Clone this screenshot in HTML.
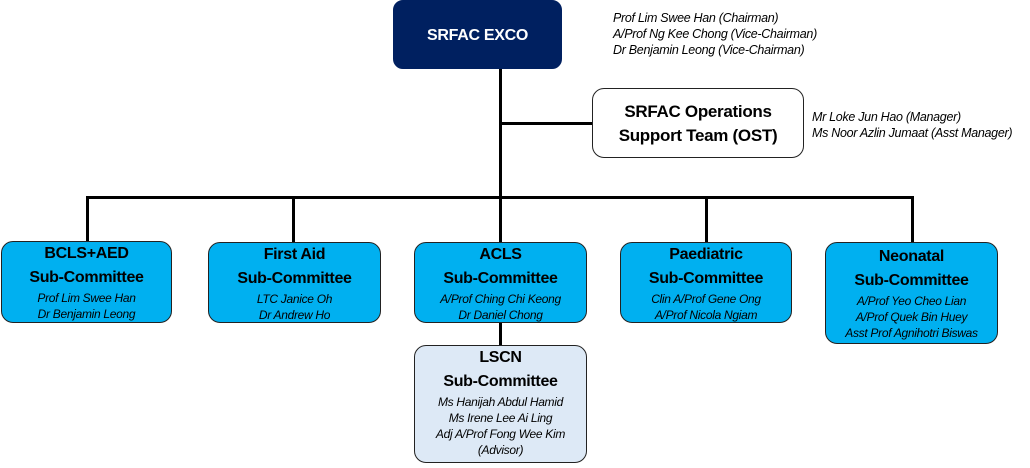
<!DOCTYPE html>
<html><head><style>
body{margin:0;width:1030px;height:468px;background:#fff;position:relative;font-family:"Liberation Sans",sans-serif;overflow:hidden}
.b{position:absolute;box-sizing:border-box;border:1.5px solid #222;border-radius:12px;text-align:center}
.t{font-weight:bold;font-size:16px;line-height:24px;letter-spacing:-0.3px}
.n{font-style:italic;font-size:12px;line-height:16px;letter-spacing:-0.3px;white-space:nowrap}
.l{position:absolute;background:#000}
.s{background:#00b0f0}
.r{position:absolute;font-style:italic;font-size:12.5px;line-height:16px;white-space:nowrap;letter-spacing:-0.3px}
</style></head><body>
<div class="l" style="left:499px;top:68px;width:3px;height:131px"></div>
<div class="l" style="left:500px;top:122px;width:93px;height:3px"></div>
<div class="l" style="left:86px;top:196px;width:828px;height:3px"></div>
<div class="l" style="left:86px;top:196px;width:3px;height:46px"></div>
<div class="l" style="left:292px;top:196px;width:3px;height:46px"></div>
<div class="l" style="left:499px;top:196px;width:3px;height:46px"></div>
<div class="l" style="left:705px;top:196px;width:3px;height:46px"></div>
<div class="l" style="left:911px;top:196px;width:3px;height:46px"></div>
<div class="l" style="left:499px;top:320px;width:3px;height:26px"></div>

<div class="b" style="left:393px;top:0;width:169px;height:69px;background:#002060;border-color:#002060;color:#fff;border-radius:10px"><div class="t" style="line-height:69px;font-size:16px">SRFAC EXCO</div></div>
<div class="r" style="left:613px;top:10px">Prof Lim Swee Han (Chairman)<br>A/Prof Ng Kee Chong (Vice-Chairman)<br>Dr Benjamin Leong (Vice-Chairman)</div>

<div class="b" style="left:592px;top:88px;width:212px;height:70px;background:#fff"><div class="t" style="padding-top:11px;font-size:17px">SRFAC Operations<br>Support Team (OST)</div></div>
<div class="r" style="left:812px;top:109px">Mr Loke Jun Hao (Manager)<br>Ms Noor Azlin Jumaat (Asst Manager)</div>

<div class="b s" style="left:1px;top:241px;width:171px;height:82px"><div class="t" style="padding-top:0">BCLS+AED<br>Sub-Committee</div><div class="n">Prof Lim Swee Han<br>Dr Benjamin Leong</div></div>
<div class="b s" style="left:208px;top:242px;width:173px;height:81px"><div class="t">First Aid<br>Sub-Committee</div><div class="n">LTC Janice Oh<br>Dr Andrew Ho</div></div>
<div class="b s" style="left:414px;top:242px;width:173px;height:81px"><div class="t">ACLS<br>Sub-Committee</div><div class="n">A/Prof Ching Chi Keong<br>Dr Daniel Chong</div></div>
<div class="b s" style="left:620px;top:242px;width:172px;height:81px"><div class="t">Paediatric<br>Sub-Committee</div><div class="n">Clin A/Prof Gene Ong<br>A/Prof Nicola Ngiam</div></div>
<div class="b s" style="left:825px;top:242px;width:173px;height:102px"><div class="t" style="padding-top:2px">Neonatal<br>Sub-Committee</div><div class="n">A/Prof Yeo Cheo Lian<br>A/Prof Quek Bin Huey<br>Asst Prof Agnihotri Biswas</div></div>
<div class="b" style="left:414px;top:345px;width:173px;height:118px;background:#dde9f6"><div class="t" style="padding-top:0">LSCN<br>Sub-Committee</div><div class="n">Ms Hanijah Abdul Hamid<br>Ms Irene Lee Ai Ling<br>Adj A/Prof Fong Wee Kim<br>(Advisor)</div></div>
</body></html>
